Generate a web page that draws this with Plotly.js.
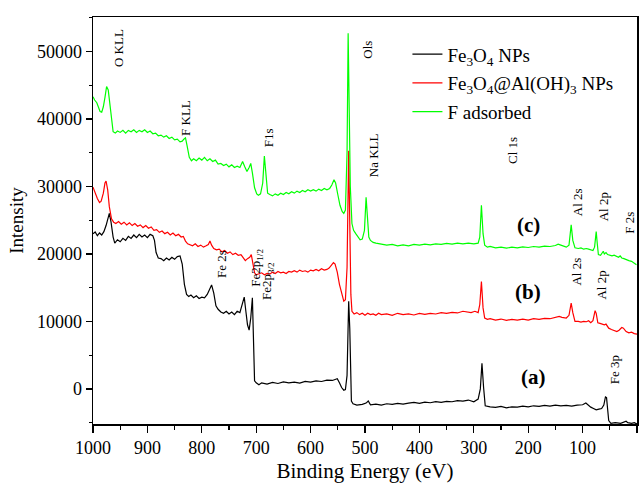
<!DOCTYPE html>
<html>
<head>
<meta charset="utf-8">
<script src="https://cdn.plot.ly/plotly-3.0.1.min.js"></script>
<style>html,body{margin:0;padding:0;background:#fff;}#chart{width:640px;height:484px;}</style>
</head>
<body>
<div id="chart"></div>
<script>
// (a) Fe3O4 NPs
const energyA = [1000,996,992,988,984,980,976,972,970,967,963,960,955,950,945,940,935,930,925,920,915,910,905,900,895,890,887,884,880,875,870,865,860,855,850,845,840,836,832,828,824,820,815,810,805,800,795,790,786,782,778,774,770,765,760,755,750,745,740,735,730,726,722,719,716,713,710,707,705,703,700,695,690,680,670,660,650,640,630,620,610,600,590,580,570,560,555,551,547,543,539,536,533,530,528,525,522,515,505,498,494,490,480,470,460,450,440,430,420,410,400,390,380,370,360,350,340,330,320,310,300,292,288,285,282,279,270,260,250,240,230,220,210,200,190,180,170,160,150,140,130,120,110,100,94,90,85,80,75,70,65,61,58,56,54,52,48,40,30,20,17,10,5,0];
const intensityA = [23000,23250,22700,23100,22800,23300,24200,25700,26000,24800,22500,21600,22100,21800,22300,22000,22600,22300,22800,22400,22900,22500,22800,22400,22900,22700,22000,20200,19400,19300,19000,19400,19100,19500,19200,19600,19700,18500,15500,14000,13700,13900,13500,13800,13400,13600,13500,14000,14800,15400,14200,12300,11800,11400,11200,11500,11100,11400,11000,11500,11300,12400,13600,11500,9500,8700,10500,13500,6000,1200,900,600,900,700,950,800,1050,900,1000,850,1100,1000,1200,1100,1300,1250,1400,1500,900,200,-200,-100,2000,13000,9000,-1800,-2200,-2400,-2300,-2100,-1800,-2350,-2250,-2400,-2200,-2300,-2150,-2250,-2100,-2000,-2150,-1950,-2050,-1900,-2000,-1850,-1900,-1750,-1800,-1650,-1900,-1500,0,3800,200,-2500,-2650,-2750,-2600,-2800,-2650,-2700,-2550,-2650,-2500,-2600,-2450,-2550,-2400,-2500,-2450,-2550,-2400,-2350,-2100,-2400,-2700,-2900,-3100,-3000,-2900,-2400,-1200,-1300,-3500,-4700,-5100,-5000,-5100,-4800,-5000,-5100,-5000,-5200];

// (b) Fe3O4@Al(OH)3 NPs
const energyB = [1000,996,992,988,985,981,978,976,973,970,966,962,958,953,948,943,938,933,928,923,918,913,908,903,898,893,888,883,878,873,868,863,858,853,848,843,838,834,830,826,822,817,812,807,802,797,792,788,785,782,778,773,768,763,758,753,748,743,738,733,728,724,720,716,712,709,706,703,700,695,690,685,680,675,670,665,660,655,650,645,640,635,630,625,620,615,610,605,600,595,590,585,580,575,570,566,562,558,555,551,547,543,539,536,533,530,528,526,524,520,515,510,505,500,495,490,485,480,475,470,460,450,440,430,420,410,400,390,380,370,360,350,340,330,320,310,305,298,292,289,286,283,280,275,270,260,250,240,230,220,210,200,190,180,170,160,150,143,138,130,125,121,118,114,108,103,98,93,89,85,81,77,75,72,68,64,60,57,52,47,42,37,33,28,25,20,15,10,5,0];
const intensityB = [29900,29000,28200,27600,27800,29000,30500,30800,29500,27000,25200,24700,24500,24800,24400,24700,24300,24600,24200,24500,24100,24300,23900,24200,23800,24000,23500,23600,23200,23400,23000,23200,22800,23100,22700,22900,22500,22600,21900,21500,21400,21200,21500,21100,21300,21000,21200,21400,21900,21300,20800,20600,20700,20300,20500,20100,20300,19900,20100,19800,19900,19500,19000,19300,19500,19900,18800,17200,16900,17000,17200,16900,17100,17000,17300,17100,17400,17200,17300,17100,17400,17300,17500,17300,17600,17400,17500,17300,17600,17500,17700,17500,17800,17600,17700,17900,18300,18700,18500,17300,15500,14000,13000,13200,18000,35300,25000,14000,11500,11100,11300,11000,11200,10900,11200,11000,11100,10900,11200,11000,11100,10900,11200,11000,11100,10950,11200,11050,11200,11100,11300,11200,11350,11250,11500,11400,11300,11500,11300,12500,15900,12000,10500,10300,10400,10200,10350,10150,10300,10200,10350,10200,10400,10300,10450,10400,10600,10750,10600,10500,10900,12700,11300,10000,10000,9900,10000,9950,10100,9800,10100,11600,11200,9800,9700,9600,9500,9600,9000,8800,8700,8500,8700,9100,9000,8500,8300,8400,8200,8100];

// (c) F adsorbed
const energyC = [1000,997,993,990,987,984,981,978,975,972,969,966,963,959,955,950,945,940,935,930,925,920,915,910,905,900,895,890,885,880,875,870,865,860,855,850,845,840,836,833,830,827,823,819,815,810,805,800,795,790,785,780,775,770,765,760,755,750,745,740,735,730,725,721,717,713,710,707,703,699,696,692,688,685,682,679,675,670,665,660,655,650,645,640,635,630,625,620,615,610,605,600,595,590,585,580,575,570,565,561,557,554,550,546,542,539,536,533,531,529,527,524,521,517,513,509,505,501,498,496,493,490,485,480,475,470,460,450,440,430,420,410,400,390,380,370,360,350,340,330,320,310,300,292,289,286,283,280,275,270,260,250,240,230,220,210,200,190,180,170,160,150,145,140,135,130,125,121,118,114,108,103,98,93,89,85,81,78,75,73,71,67,64,62,60,57,54,50,46,42,38,34,31,28,24,19,15,10,5,1];
const intensityC = [43300,42800,42400,41700,41100,41000,41800,43200,44800,44300,42000,39500,38100,37900,38200,38000,38300,37900,38300,38100,38400,38000,38300,38100,38400,38000,38200,37800,37900,37500,37600,37300,37500,37100,37300,36900,37000,36600,36700,37000,37200,36000,34300,33800,34100,33800,34200,33900,34300,33800,34100,33700,33900,33300,33400,33100,33300,32900,33200,32800,33000,32800,33700,32900,32200,32800,33400,32000,29800,28900,28700,28900,30500,34500,31000,29000,28800,28600,28900,28700,29000,28800,29100,28900,29200,29000,29300,29100,29400,29200,29500,29300,29500,29300,29600,29400,29700,29500,29700,30200,31000,30500,28800,27200,26300,26000,26500,35000,52700,40000,30000,24500,23500,23000,22500,22100,22200,23500,28400,26000,22500,22000,21700,21600,21500,21400,21300,21400,21200,21350,21200,21400,21300,21450,21350,21500,21400,21550,21450,21600,21500,21600,21500,21600,22500,27200,23000,21300,21000,21100,20900,21000,20850,21000,20900,21050,20950,21100,21000,21150,21100,21250,21450,21300,21100,21000,21300,24300,22000,20900,20800,20900,20700,20800,20700,20600,20500,21000,23300,21500,19900,19800,20100,20400,20000,20200,19900,19800,19700,19800,19600,19500,19700,19400,19300,19100,19000,18900,18600,18400];

const seriesNames = ['Fe<sub>3</sub>O<sub>4</sub> NPs','Fe<sub>3</sub>O<sub>4</sub>@Al(OH)<sub>3</sub> NPs','F adsorbed'];
const seriesColors = ['#000000','#ff0000','#00ff00'];

// peak labels (rotated)
const labelText = ['O KLL','F KLL','F1s','Ols','Na KLL','Cl 1s','Al 2s','Al 2p','F 2s','Al 2s','Al 2p','Fe 2s','Fe2p<sub>1/2</sub>','Fe2p<sub>3/2</sub>','Fe 3p'];
const labelE = [954,831,678,497,485,228,108,62,13,111,65,763,699,678,40];
const labelI = [50500,40130,37170,50200,34650,35400,27700,26950,24600,17330,15400,18510,17920,16000,2810];

// panel labels
const panelText = ['(c)','(b)','(a)'];
const panelE = [200,200,191];
const panelI = [24290,14410,1820];

const serif = 'Liberation Serif, serif';

const traces = [
  {x: energyA, y: intensityA},
  {x: energyB, y: intensityB},
  {x: energyC, y: intensityC}
].map((t,i)=>({
  x: t.x, y: t.y, type: 'scatter', mode: 'lines',
  name: seriesNames[i], legendgroup: 'g'+i,
  line: {color: seriesColors[i], width: 1.2}
}));

const annotations = [];
labelText.forEach((t,i)=>annotations.push({
  x: labelE[i], y: labelI[i], xref: 'x', yref: 'y', text: t, showarrow: false,
  textangle: -90, xanchor: 'center', yanchor: 'middle',
  font: {family: serif, size: 13, color: '#000'}
}));
panelText.forEach((t,i)=>annotations.push({
  x: panelE[i], y: panelI[i], xref: 'x', yref: 'y', text: '<b>'+t+'</b>', showarrow: false,
  xanchor: 'center', yanchor: 'middle',
  font: {family: serif, size: 21, color: '#000'}
}));

const layout = {
  width: 640, height: 484,
  margin: {l: 93, r: 3, t: 17, b: 60},
  paper_bgcolor: '#fff', plot_bgcolor: '#fff',
  showlegend: true,
  legend: {x: 0.578, y: 0.955, xanchor: 'left', yanchor: 'top',
    traceorder: 'grouped', tracegroupgap: 1,
    bgcolor: 'rgba(0,0,0,0)', font: {family: serif, size: 19, color: '#000'}},
  font: {family: serif, color: '#000'},
  xaxis: {
    range: [1000, 0], showgrid: false, zeroline: false,
    showline: true, linecolor: '#000', linewidth: 1.5, mirror: true,
    ticks: 'outside', ticklen: 7, tickwidth: 1.2, tickcolor: '#000',
    dtick: 100, tick0: 0,
    minor: {dtick: 50, ticks: 'outside', ticklen: 4, tickwidth: 1.2, tickcolor: '#000'},
    tickfont: {family: serif, size: 18, color: '#000'},
    title: {text: 'Binding Energy (eV)', font: {family: serif, size: 21, color: '#000'}, standoff: 6}
  },
  yaxis: {
    range: [-5200, 55100], showgrid: false, zeroline: false,
    showline: true, linecolor: '#000', linewidth: 1.5, mirror: true,
    ticks: 'outside', ticklen: 6, tickwidth: 1.2, tickcolor: '#000',
    dtick: 10000, tick0: 0, tickformat: 'd',
    minor: {dtick: 5000, ticks: 'outside', ticklen: 3, tickwidth: 1.2, tickcolor: '#000'},
    tickfont: {family: serif, size: 18, color: '#000'},
    title: {text: 'Intensity', font: {family: serif, size: 19, color: '#000'}, standoff: 8}
  },
  annotations: annotations
};

Plotly.newPlot('chart', traces, layout, {displayModeBar: false, staticPlot: true});
</script>
</body>
</html>
